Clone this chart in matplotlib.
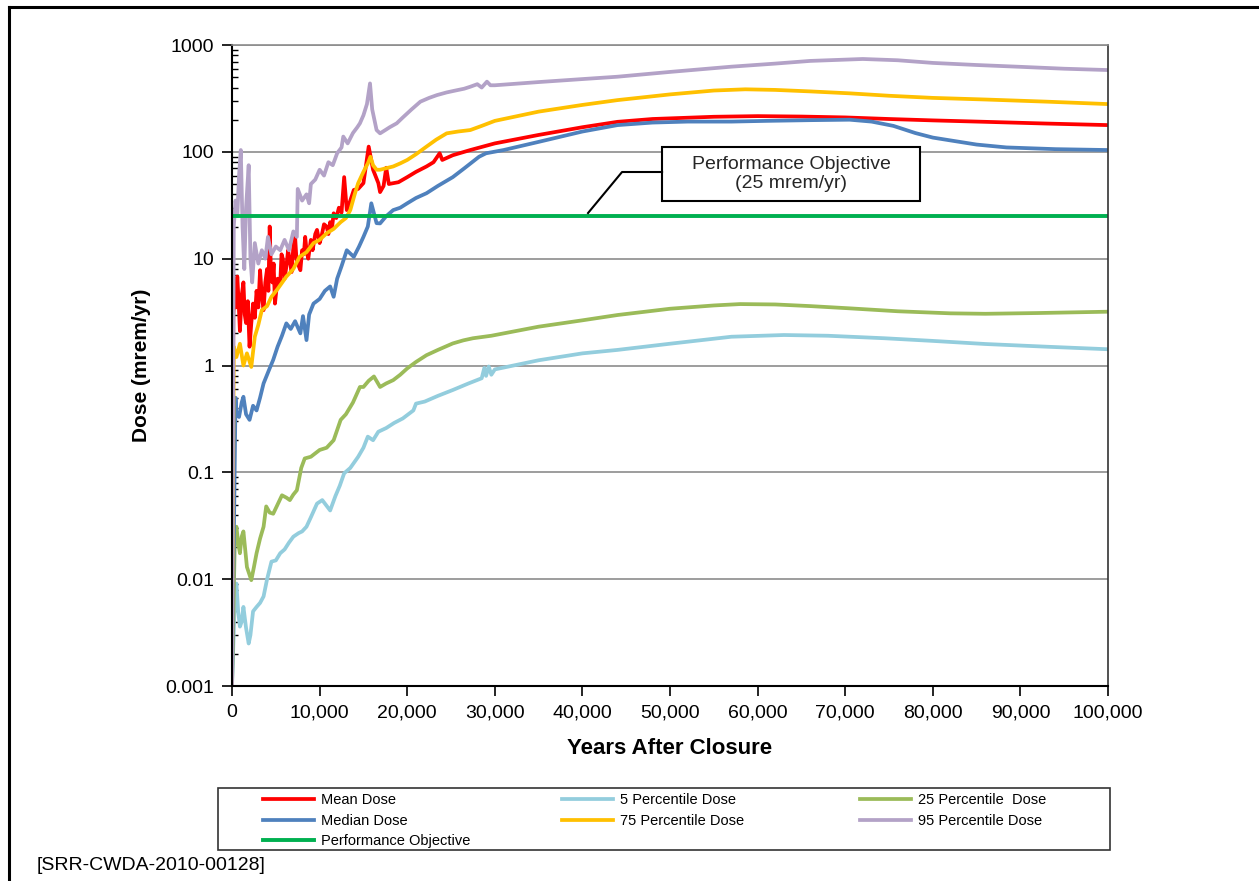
import matplotlib
matplotlib.use("Agg")
import matplotlib.pyplot as plt
from matplotlib.lines import Line2D
from matplotlib.patches import Rectangle
from matplotlib.ticker import FixedLocator, FixedFormatter, LogLocator, NullFormatter, FuncFormatter

plt.rcParams["font.family"] = ["Liberation Sans", "DejaVu Sans"]

# ---- data (years after closure, dose in mrem/yr) ----
mean_x = [0, 150, 300, 450, 600, 750, 900, 1100, 1300, 1450, 1600, 1800, 2000, 2200, 2400,
          2600, 2800, 3000, 3200, 3400, 3600, 3800, 4000, 4150, 4300, 4450, 4600, 4750, 4900,
          5200, 5500, 5650, 5800, 6000, 6200, 6400, 6600, 6800, 7000, 7200, 7350, 7500, 7800,
          8000, 8200, 8350, 8500, 8700, 9000, 9200, 9500, 9700, 10000, 10200, 10500, 10800,
          11000, 11200, 11400, 11600, 11900, 12200, 12500, 12800, 13100, 13500, 13900, 14400,
          15000, 15600, 16100, 16700, 16900, 17300, 17600, 17900, 19000, 20000, 21000, 22200,
          23000, 23700, 24000, 25200, 27200, 30000, 35000, 40000, 44000, 48000, 55000, 60000,
          65000, 70000, 75000, 80000, 86000, 93000, 100000]
mean_y = [0.001, 3.0, 5.0, 3.5, 6.8, 4.0, 2.1, 4.5, 6.0, 3.0, 2.5, 4.0, 1.5, 2.5, 3.8,
          2.8, 5.0, 3.5, 7.8, 4.5, 3.3, 6.0, 8.0, 5.0, 20, 7, 6.0, 9, 3.8,
          6.5, 5.9, 11, 10, 6.5, 8.4, 12, 9.5, 7.5, 13, 16, 10, 9, 7.8,
          12, 11, 16, 12, 10, 15, 12, 17, 18.6, 14, 16, 21, 20,
          17, 22, 19, 26.6, 24, 30, 27, 58, 28.5, 35, 44, 45,
          51, 112, 68, 51, 42, 48, 71, 50, 52, 58, 65, 73,
          80, 97, 84, 93, 104, 120, 144, 170, 191, 203, 213, 216,
          214, 210, 203, 197, 191, 184, 178]

p5_x = [0, 300, 500, 700, 900, 1100, 1300, 1600, 1900, 2100, 2400, 2800, 3200, 3600, 4000,
        4500, 5000, 5500, 6000, 6500, 7000, 7600, 8000, 8500, 9000, 9700, 10300, 11200, 11800,
        12300, 12800, 13500, 14400, 15000, 15500, 16100, 16700, 17600, 18500, 19500, 20700,
        21000, 22000, 23500, 25200, 27000, 28500, 28800, 29000, 29300, 29600, 30000, 35000,
        40000, 44000, 50000, 57000, 63000, 68000, 74500, 80000, 86000, 93000, 100000]
p5_y = [0.001, 0.006, 0.0091, 0.005, 0.0036, 0.004, 0.0055, 0.0035, 0.0025, 0.003, 0.005,
        0.0055, 0.006, 0.0069, 0.01, 0.0146, 0.015, 0.0175, 0.019, 0.022, 0.025, 0.027, 0.028,
        0.031, 0.038, 0.051, 0.055, 0.044, 0.06, 0.075, 0.098, 0.11, 0.14, 0.17, 0.216, 0.2,
        0.24, 0.26, 0.29, 0.32, 0.38, 0.44, 0.46, 0.52, 0.59, 0.68, 0.76, 0.95, 0.8, 0.98,
        0.82, 0.92, 1.12, 1.3, 1.4, 1.6, 1.86, 1.93, 1.9, 1.8, 1.7, 1.59, 1.5, 1.42]

p25_x = [0, 300, 500, 700, 900, 1100, 1300, 1700, 2200, 2500, 2800, 3200, 3600, 3900, 4300,
         4700, 5200, 5700, 6200, 6600, 7000, 7400, 7900, 8300, 9000, 10000, 10800, 11600,
         12400, 13000, 13800, 14600, 15000, 15600, 16200, 16900, 17600, 18400, 19200, 20000,
         21000, 22200, 23500, 25200, 26400, 27500, 29600, 35000, 40000, 44000, 50000, 55000,
         58000, 62000, 66000, 70500, 76000, 82000, 86000, 92000, 100000]
p25_y = [0.001, 0.02, 0.031, 0.022, 0.0175, 0.025, 0.028, 0.013, 0.0098, 0.013, 0.0175,
         0.024, 0.031, 0.048, 0.042, 0.041, 0.05, 0.061, 0.058, 0.055, 0.062, 0.068, 0.11,
         0.135, 0.14, 0.162, 0.17, 0.2, 0.31, 0.35, 0.45, 0.63, 0.63, 0.72, 0.79, 0.63, 0.68,
         0.73, 0.82, 0.94, 1.08, 1.25, 1.4, 1.61, 1.72, 1.8, 1.9, 2.31, 2.65, 2.97, 3.4, 3.65,
         3.76, 3.73, 3.6, 3.43, 3.22, 3.08, 3.05, 3.1, 3.19]

median_x = [0, 400, 500, 800, 1100, 1300, 1600, 2000, 2400, 2800, 3200, 3600, 4200, 4700,
            5200, 5700, 6200, 6700, 7200, 7800, 8100, 8500, 8800, 9300, 10000, 10600, 11200,
            11600, 12000, 12500, 13100, 13900, 14500, 15000, 15500, 15900, 16500, 16900, 17600,
            18400, 19200, 20000, 21000, 22200, 23500, 25200, 26500, 28200, 29000, 31000, 35000,
            40000, 44000, 48000, 52000, 57000, 61000, 66000, 70500, 73000, 75500, 78000, 80000,
            82000, 85000, 88400, 94000, 100000]
median_y = [0.001, 0.5, 0.35, 0.33, 0.45, 0.51, 0.35, 0.31, 0.42, 0.38, 0.5, 0.68, 0.9, 1.13,
            1.5, 1.9, 2.48, 2.2, 2.6, 2.0, 2.9, 1.73, 3.0, 3.8, 4.2, 5.0, 5.5, 4.4, 6.5, 8.5, 12,
            10.4, 13, 16, 20, 33, 21.5, 21.4, 25, 28.5, 30, 33, 37, 41, 48, 58, 70, 90, 97, 104,
            124, 155, 178, 188, 192, 192, 195, 198, 200, 192, 175, 150, 136, 128, 117, 110, 106,
            104]

p75_x = [0, 200, 500, 900, 1300, 1700, 2200, 2600, 3000, 3400, 4000, 4500, 5200, 6200, 7000,
         7700, 8500, 9300, 10000, 10800, 11600, 12400, 13000, 13500, 14000, 14400, 15000, 15500,
         15800, 16100, 16500, 16900, 17500, 18400, 19200, 20000, 21000, 22200, 23300, 24500,
         25800, 27200, 28500, 30000, 35000, 40000, 44000, 50000, 55000, 58600, 62000, 66000,
         70500, 75000, 80000, 86000, 93000, 100000]
p75_y = [0.001, 1.5, 1.2, 1.6, 1.0, 1.3, 0.97, 1.86, 2.4, 3.3, 3.6, 4.4, 5.2, 6.8, 8, 10.4,
         11.5, 14, 15, 17.3, 19, 22, 24, 28.5, 40, 51, 65, 78, 90, 75, 68, 68, 70, 73, 78, 84,
         95, 112, 130, 149, 155, 160, 175, 195, 238, 275, 305, 345, 375, 385, 380, 368, 353,
         335, 320, 309, 295, 280]

p95_x = [0, 200, 400, 600, 800, 1000, 1200, 1400, 1600, 1900, 2100, 2300, 2600, 3000, 3400,
         3800, 4100, 4500, 5000, 5500, 6000, 6500, 7000, 7400, 7500, 8000, 8500, 8800, 9000,
         9500, 10000, 10500, 11000, 11500, 12000, 12500, 12700, 13200, 13800, 14300, 14600,
         15000, 15400, 15750, 16000, 16500, 16900, 17500, 18000, 18800, 19500, 20500, 21500,
         22500, 23400, 24500, 25500, 26500, 27200, 28000, 28500, 29100, 29500, 30000, 35000,
         40000, 44000, 50000, 57000, 62000, 66000, 72000, 76000, 80000, 85000, 90000, 95000,
         100000]
p95_y = [0.001, 20, 35, 25, 60, 104, 20, 8, 30, 75, 10, 6, 14, 9, 12, 10, 16, 11, 13, 12, 15,
         12, 18, 16, 45, 35, 40, 33, 50, 55, 68, 60, 80, 75, 97, 110, 139, 120, 150, 170, 185,
         220, 280, 437, 250, 160, 149, 160, 170, 185, 210, 250, 295, 320, 340, 360, 375, 390,
         407, 430, 400, 454, 420, 420, 450, 480, 505, 560, 627, 670, 710, 740, 720, 680, 650,
         625, 600, 583]

objective_dose = 25

x_ticks = [0, 10000, 20000, 30000, 40000, 50000, 60000, 70000, 80000, 90000, 100000]
y_ticks = [0.001, 0.01, 0.1, 1, 10, 100, 1000]
y_tick_labels = ["0.001", "0.01", "0.1", "1", "10", "100", "1000"]

# ---- figure ----
fig = plt.figure(figsize=(12.59, 8.81), dpi=100)
ax = fig.add_axes([0.1843, 0.2213, 0.6958, 0.7276])

lw = 2.7
l_mean, = ax.plot(mean_x, mean_y, color="#FF0000", lw=lw, label="Mean Dose")
l_p5, = ax.plot(p5_x, p5_y, color="#93CDDD", lw=lw, label="5 Percentile Dose")
l_p25, = ax.plot(p25_x, p25_y, color="#9BBB59", lw=lw, label="25 Percentile  Dose")
l_med, = ax.plot(median_x, median_y, color="#4F81BD", lw=lw, label="Median Dose")
l_p75, = ax.plot(p75_x, p75_y, color="#FFC000", lw=lw, label="75 Percentile Dose")
l_p95, = ax.plot(p95_x, p95_y, color="#B3A2C7", lw=lw, label="95 Percentile Dose")
l_obj = ax.axhline(objective_dose, color="#00B050", lw=2.8, label="Performance Objective")

ax.set_yscale("log")
ax.set_xlim(0, 100000)
ax.set_ylim(0.001, 1000)

ax.yaxis.set_major_locator(FixedLocator(y_ticks))
ax.yaxis.set_major_formatter(FixedFormatter(y_tick_labels))
ax.yaxis.set_minor_locator(LogLocator(base=10, subs=range(2, 10)))
ax.yaxis.set_minor_formatter(NullFormatter())
ax.xaxis.set_major_locator(FixedLocator(x_ticks))
ax.xaxis.set_major_formatter(FuncFormatter(lambda v, _: f"{int(v):,}"))

ax.tick_params(axis="both", which="major", direction="out", length=7, width=1.2,
               labelsize=14, pad=6, colors="black")
ax.tick_params(axis="y", which="minor", direction="in", length=4, width=1)
ax.grid(True, axis="y", which="major", color="#8C8C8C", lw=1.2)
ax.set_axisbelow(True)

for side in ["left", "bottom"]:
    ax.spines[side].set_linewidth(1.5)
    ax.spines[side].set_color("black")
ax.spines["top"].set_color("#8C8C8C")
ax.spines["top"].set_linewidth(1.2)
ax.spines["right"].set_color("#333333")
ax.spines["right"].set_linewidth(1.2)

ax.set_xlabel("Years After Closure", fontsize=16, fontweight="bold", labelpad=12)
ax.set_ylabel("Dose (mrem/yr)", fontsize=15, fontweight="bold", labelpad=10)

# performance objective callout
ax.add_patch(Rectangle((0.4909, 0.7566), 0.2945, 0.0842, transform=ax.transAxes,
                       facecolor="white", edgecolor="black", lw=1.5, zorder=5))
ax.text(0.6382, 0.7987, "Performance Objective\n(25 mrem/yr)", transform=ax.transAxes,
        ha="center", va="center", fontsize=14, color="#262626", linespacing=1.1, zorder=6)
ax.plot([0.4064, 0.4452, 0.4909], [0.7379, 0.8019, 0.8019], transform=ax.transAxes,
        color="black", lw=1.5, zorder=5, clip_on=False)

# legend: one column per legend so the columns sit where they do in the source
fig.add_artist(Rectangle((0.1732, 0.0352), 0.7085, 0.0704, transform=fig.transFigure,
                         facecolor="white", edgecolor="#333333", lw=1.2, zorder=1))
columns = [([l_mean, l_med, l_obj], 0.2089), ([l_p5, l_p75], 0.4464), ([l_p25, l_p95], 0.6831)]
for col_handles, x0 in columns:
    leg = fig.legend(handles=col_handles, labels=[h.get_label() for h in col_handles],
                     loc="upper left", bbox_to_anchor=(x0, 0.0998),
                     bbox_transform=fig.transFigure, borderaxespad=0, borderpad=0,
                     fontsize=10.5, handlelength=3.5, handletextpad=0.45,
                     labelspacing=0.45, frameon=False)
    leg.set_zorder(2)

fig.text(0.029, 0.0125, "[SRR-CWDA-2010-00128]", fontsize=14, ha="left", va="baseline")

# page frame (top and left edges)
fig.add_artist(Line2D([0.0075, 1.0], [0.9917, 0.9917], color="black", lw=2.2,
                      transform=fig.transFigure))
fig.add_artist(Line2D([0.0075, 0.0075], [0.0, 0.9917], color="black", lw=2.2,
                      transform=fig.transFigure))

fig.savefig("out.png", dpi=100)
